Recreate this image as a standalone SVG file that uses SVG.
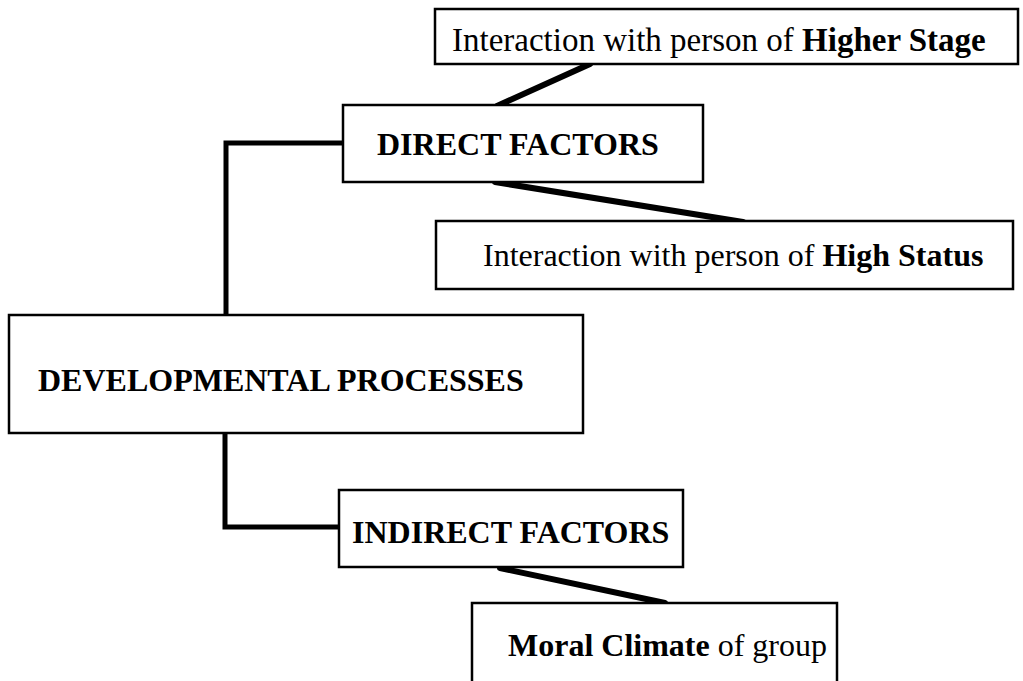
<svg xmlns="http://www.w3.org/2000/svg" width="1023" height="681" viewBox="0 0 1023 681">
<style>
.box{fill:#fff;stroke:#000;stroke-width:2.5}
.t{font-family:"Liberation Serif","Times New Roman",serif;font-size:32px;fill:#000}
.b{font-weight:bold}
.c{fill:none;stroke:#000;stroke-width:5;stroke-linecap:round;stroke-linejoin:miter}
.s{stroke-width:6}
</style>
<rect width="1023" height="681" fill="#fff"/>
<g id="connectors">
<path class="c s" d="M590,64 L497,106"/>
<path class="c s" d="M495,182 L743,222"/>
<path class="c" d="M343,143 L226,143 L226,315"/>
<path class="c" d="M225,433 L225,527 L339,527"/>
<path class="c s" d="M500,568 L665,603"/>
</g>
<g id="higher-stage">
<rect class="box" x="435" y="9" width="583" height="55"/>
<text class="t" x="452" y="51" style="font-size:33px">Interaction with person of <tspan class="b">Higher Stage</tspan></text>
</g>
<g id="direct-factors">
<rect class="box" x="343" y="105" width="360" height="77"/>
<text class="t b" x="377" y="155">DIRECT FACTORS</text>
</g>
<g id="high-status">
<rect class="box" x="436" y="221" width="577" height="68"/>
<text class="t" x="483" y="266">Interaction with person of <tspan class="b">High Status</tspan></text>
</g>
<g id="developmental-processes">
<rect class="box" x="9" y="315" width="574" height="118"/>
<text class="t b" x="38" y="391">DEVELOPMENTAL PROCESSES</text>
</g>
<g id="indirect-factors">
<rect class="box" x="339" y="490" width="344" height="77"/>
<text class="t b" x="352" y="543">INDIRECT FACTORS</text>
</g>
<g id="moral-climate">
<rect class="box" x="472" y="603" width="365" height="90"/>
<text class="t" x="508" y="656"><tspan class="b">Moral Climate</tspan> of group</text>
</g>
</svg>
